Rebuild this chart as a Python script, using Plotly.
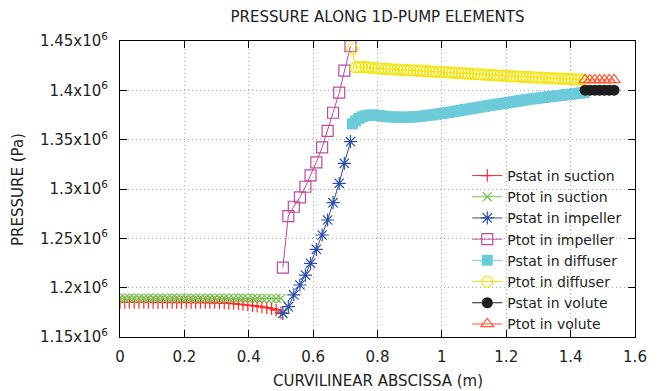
import plotly.graph_objects as go

# ---------------- data ----------------
suction_x = [0.000, 0.015, 0.029, 0.044, 0.059, 0.074, 0.088, 0.103, 0.118, 0.132,
             0.147, 0.162, 0.176, 0.191, 0.206, 0.221, 0.235, 0.250, 0.265, 0.279,
             0.294, 0.309, 0.324, 0.338, 0.353, 0.368, 0.382, 0.397, 0.412, 0.426,
             0.441, 0.456, 0.471, 0.485, 0.500]
pstat_suction = [1.1850, 1.1850, 1.1850, 1.1850, 1.1850, 1.1850, 1.1850, 1.1850, 1.1850, 1.1850,
                 1.1850, 1.1850, 1.1850, 1.1850, 1.1850, 1.1850, 1.1850, 1.1850, 1.1850, 1.1849,
                 1.1849, 1.1848, 1.1846, 1.1843, 1.1839, 1.1834, 1.1829, 1.1824, 1.1818, 1.1812,
                 1.1805, 1.1797, 1.1787, 1.1772, 1.1745]
ptot_suction = [1.1893, 1.1893, 1.1893, 1.1893, 1.1893, 1.1893, 1.1893, 1.1893, 1.1893, 1.1893,
                1.1893, 1.1893, 1.1893, 1.1893, 1.1893, 1.1893, 1.1893, 1.1893, 1.1893, 1.1893,
                1.1893, 1.1893, 1.1893, 1.1893, 1.1893, 1.1893, 1.1893, 1.1893, 1.1893, 1.1893,
                1.1892, 1.1892, 1.1892, 1.1891, 1.1890]

impeller_x = [0.506, 0.523, 0.540, 0.559, 0.576, 0.592, 0.610, 0.628, 0.645, 0.662,
              0.681, 0.697, 0.716]
pstat_impeller = [1.1740, 1.1807, 1.1926, 1.2027, 1.2128, 1.2247, 1.2389, 1.2534, 1.2686,
                  1.2861, 1.3058, 1.3260, 1.3480]
ptot_impeller = [1.2203, 1.2726, 1.2820, 1.2916, 1.3023, 1.3138, 1.3270, 1.3422, 1.3590,
                 1.3773, 1.3976, 1.4199, 1.4449]

diffuser_x = [0.722, 0.732, 0.742, 0.752, 0.762, 0.772, 0.782, 0.792, 0.802, 0.812,
              0.822, 0.832, 0.842, 0.852, 0.862, 0.872, 0.882, 0.892, 0.902, 0.912,
              0.922, 0.932, 0.942, 0.952, 0.962, 0.972, 0.982, 0.992, 1.002, 1.012,
              1.022, 1.032, 1.042, 1.052, 1.062, 1.072, 1.082, 1.092, 1.102, 1.112,
              1.122, 1.132, 1.142, 1.152, 1.162, 1.172, 1.182, 1.192, 1.202, 1.212,
              1.222, 1.232, 1.242, 1.252, 1.262, 1.272, 1.282, 1.292, 1.302, 1.312,
              1.322, 1.332, 1.342, 1.352, 1.362, 1.372, 1.382, 1.392, 1.402, 1.412,
              1.422, 1.432, 1.442]
pstat_diffuser = [1.3660, 1.3690, 1.3715, 1.3732, 1.3742, 1.3748, 1.3750, 1.3748, 1.3745, 1.3741,
                  1.3737, 1.3734, 1.3731, 1.3729, 1.3728, 1.3727, 1.3727, 1.3728, 1.3729, 1.3731,
                  1.3733, 1.3736, 1.3740, 1.3744, 1.3748, 1.3752, 1.3757, 1.3762, 1.3767, 1.3772,
                  1.3777, 1.3783, 1.3788, 1.3794, 1.3799, 1.3805, 1.3810, 1.3816, 1.3821, 1.3827,
                  1.3832, 1.3838, 1.3843, 1.3849, 1.3854, 1.3859, 1.3864, 1.3869, 1.3874, 1.3879,
                  1.3884, 1.3889, 1.3895, 1.3900, 1.3905, 1.3910, 1.3914, 1.3918, 1.3922, 1.3926,
                  1.3930, 1.3934, 1.3938, 1.3942, 1.3946, 1.3950, 1.3954, 1.3958, 1.3962, 1.3966,
                  1.3970, 1.3974, 1.3978]
ptot_diffuser = [1.4419, 1.4232, 1.4235, 1.4236, 1.4235, 1.4233, 1.4228, 1.4224, 1.4221, 1.4219,
                 1.4217, 1.4215, 1.4213, 1.4211, 1.4210, 1.4208, 1.4206, 1.4204, 1.4203, 1.4201,
                 1.4199, 1.4197, 1.4195, 1.4194, 1.4192, 1.4190, 1.4188, 1.4186, 1.4185, 1.4183,
                 1.4181, 1.4179, 1.4177, 1.4175, 1.4173, 1.4171, 1.4169, 1.4167, 1.4165, 1.4163,
                 1.4161, 1.4159, 1.4157, 1.4155, 1.4153, 1.4151, 1.4149, 1.4147, 1.4145, 1.4143,
                 1.4141, 1.4140, 1.4138, 1.4136, 1.4135, 1.4133, 1.4131, 1.4130, 1.4128, 1.4127,
                 1.4125, 1.4124, 1.4122, 1.4121, 1.4119, 1.4118, 1.4116, 1.4115, 1.4113, 1.4112,
                 1.4110, 1.4109, 1.4107]

volute_x = [1.445, 1.460, 1.475, 1.490, 1.505, 1.520, 1.535]
pstat_volute = [1.4001, 1.4001, 1.4001, 1.4001, 1.4001, 1.4001, 1.4001]
ptot_volute = [1.4105, 1.4105, 1.4105, 1.4105, 1.4105, 1.4105, 1.4105]

x_ticks = [0, 0.2, 0.4, 0.6, 0.8, 1.0, 1.2, 1.4, 1.6]
x_tick_labels = ["0", "0.2", "0.4", "0.6", "0.8", "1", "1.2", "1.4", "1.6"]
y_ticks = [1.15e6, 1.2e6, 1.25e6, 1.3e6, 1.35e6, 1.4e6, 1.45e6]
y_tick_labels = ["1.15x10<sup>6</sup>", "1.2x10<sup>6</sup>", "1.25x10<sup>6</sup>",
                 "1.3x10<sup>6</sup>", "1.35x10<sup>6</sup>", "1.4x10<sup>6</sup>",
                 "1.45x10<sup>6</sup>"]

SCALE = 1e6
FONT = "DejaVu Sans"
TXT = "#222222"

series = [
    ("Pstat in suction", suction_x, pstat_suction, "#ff2a2a", "cross-thin", 9),
    ("Ptot in suction", suction_x, ptot_suction, "#77c050", "x-thin", 9),
    ("Pstat in impeller", impeller_x, pstat_impeller, "#2f4fa6", "asterisk", 11),
    ("Ptot in impeller", impeller_x, ptot_impeller, "#b94c9f", "square-open", 11),
    ("Pstat in diffuser", diffuser_x, pstat_diffuser, "#6ccbd9", "square", 11),
    ("Ptot in diffuser", diffuser_x, ptot_diffuser, "#f2e510", "circle-open", 11),
    ("Pstat in volute", volute_x, pstat_volute, "#1e1e1e", "circle", 11),
    ("Ptot in volute", volute_x, ptot_volute, "#ff5533", "triangle-up-open", 11),
]

fig = go.Figure()
for name, xs, ys, col, sym, sz in series:
    filled = sym in ("square", "circle")
    fig.add_trace(go.Scatter(
        x=xs, y=[v * SCALE for v in ys], name=name, mode="lines+markers",
        line=dict(color=col, width=1),
        marker=dict(symbol=sym, size=sz, color=col,
                    line=dict(color=col, width=0 if filled else 1.2)),
    ))

axis_common = dict(
    showline=True, linecolor="black", linewidth=1, mirror="ticks",
    ticks="inside", ticklen=7, tickcolor="black", tickwidth=1,
    showgrid=True, gridcolor="#a8a8a8", gridwidth=1, griddash="1px,3px",
    zeroline=False, tickfont=dict(family=FONT, size=15, color=TXT),
)

fig.update_xaxes(range=[0, 1.6], tickvals=x_ticks, ticktext=x_tick_labels,
                 ticklabelstandoff=6, **axis_common)
fig.update_yaxes(range=[1.15e6, 1.45e6], tickvals=y_ticks, ticktext=y_tick_labels,
                 ticklabelstandoff=8, **axis_common)

fig.update_layout(
    width=659, height=391,
    margin=dict(l=120, r=14, t=41, b=54),
    paper_bgcolor="white", plot_bgcolor="white",
    font=dict(family=FONT, size=15, color=TXT),
    title=dict(text="PRESSURE ALONG 1D-PUMP ELEMENTS", x=0.5, xref="paper",
               xanchor="center", y=1 - 17 / 391, yref="container", yanchor="middle",
               font=dict(family=FONT, size=15, color=TXT)),
    legend=dict(x=0.985, y=-0.01, xanchor="right", yanchor="bottom",
                bgcolor="rgba(255,255,255,0)", font=dict(family=FONT, size=14, color=TXT),
                tracegroupgap=0),
    showlegend=True,
    annotations=[
        dict(text="CURVILINEAR ABSCISSA (m)", xref="paper", yref="paper", x=0.5,
             y=(337 - 381) / 296, xanchor="center", yanchor="middle", showarrow=False,
             font=dict(family=FONT, size=15, color=TXT)),
        dict(text="PRESSURE (Pa)", xref="paper", yref="paper", x=(16 - 120) / 525,
             y=0.5, xanchor="center", yanchor="middle", textangle=-90, showarrow=False,
             font=dict(family=FONT, size=15, color=TXT)),
    ],
)

fig.write_html("out.html", config={"displayModeBar": False},
               post_script="document.body.style.margin='0';document.body.style.overflow='hidden';")
